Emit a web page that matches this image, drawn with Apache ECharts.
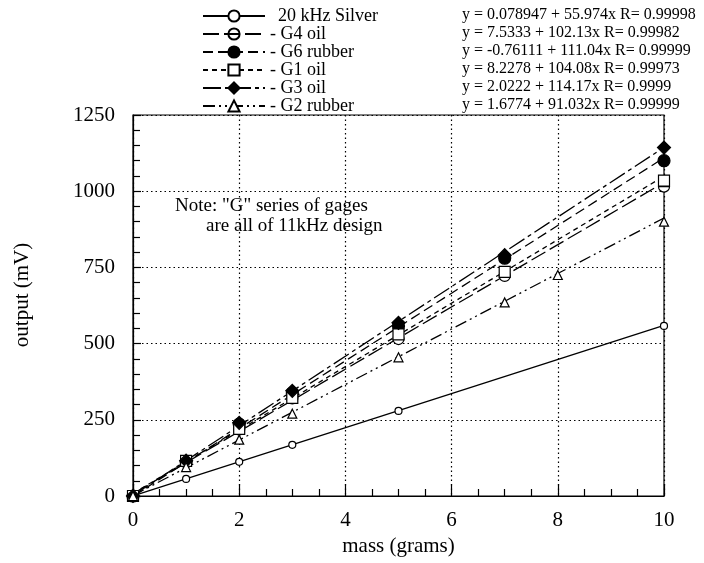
<!DOCTYPE html>
<html>
<head>
<meta charset="utf-8">
<script src="https://cdn.jsdelivr.net/npm/echarts@6/dist/echarts.min.js"></script>
<style>
  html, body { margin: 0; padding: 0; background: #fff; }
  #chart { width: 704px; height: 563px; }
</style>
</head>
<body>
<div id="chart"></div>
<script>
// Gage output versus applied mass
const seriesNames = ['20 kHz Silver', 'G4 oil', 'G6 rubber', 'G1 oil', 'G3 oil', 'G2 rubber'];

// measured points (mass in grams, output in mV)
const silverX = [0, 1, 2, 3, 5, 10];
const silverY = [0, 56, 112, 168, 279, 558];
const g4X = [0, 1, 2, 3, 5, 7, 10];
const g4Y = [0, 112, 218, 320, 515, 722, 1015];
const g6X = [0, 1, 2, 3, 5, 7, 10];
const g6Y = [0, 112, 236, 338, 558, 780, 1100];
const g1X = [0, 1, 2, 3, 5, 7, 10];
const g1Y = [0, 115, 220, 322, 530, 735, 1035];
const g3X = [0, 1, 2, 3, 5, 7, 10];
const g3Y = [0, 116, 240, 345, 568, 790, 1143];
const g2X = [0, 1, 2, 3, 5, 7, 8, 10];
const g2Y = [0, 95, 185, 270, 455, 635, 725, 900];

// linear fits y = a + b x
const fitA = [0.078947, 7.5333, -0.76111, 8.2278, 2.0222, 1.6774];
const fitB = [55.974, 102.13, 111.04, 104.08, 114.17, 91.032];
const fitText = [
  'y = 0.078947 + 55.974x R= 0.99998',
  'y = 7.5333 + 102.13x R= 0.99982',
  'y = -0.76111 + 111.04x R= 0.99999',
  'y = 8.2278 + 104.08x R= 0.99973',
  'y = 2.0222 + 114.17x R= 0.9999',
  'y = 1.6774 + 91.032x R= 0.99999'
];

// axis ticks
const xTicks = [0, 2, 4, 6, 8, 10];
const yTicks = [0, 250, 500, 750, 1000, 1250];

const FONT = 'Liberation Serif';
const theta = 'path://M0,50A50,50,0,1,1,100,50A50,50,0,1,1,0,50ZM0,50L100,50';

const pointsX = [silverX, g4X, g6X, g1X, g3X, g2X];
const pointsY = [silverY, g4Y, g6Y, g1Y, g3Y, g2Y];
const styles = [
  { symbol: 'circle',   size: 7,  fill: '#fff', dash: 'solid' },
  { symbol: theta,      size: 11, fill: '#fff', dash: [16, 5] },
  { symbol: 'circle',   size: 12, fill: '#000', dash: [10, 5] },
  { symbol: 'rect',     size: 11, fill: '#fff', dash: [5, 4] },
  { symbol: 'diamond',  size: 13, fill: '#000', dash: [18, 4, 4, 4] },
  { symbol: 'triangle', size: 9,  fill: '#fff', dash: [12, 4, 2, 4, 2, 4] }
];

const series = [];
seriesNames.forEach((name, i) => {
  const st = styles[i];
  // fitted line over the mass range
  series.push({
    name: name,
    type: 'line',
    data: [[xTicks[0], fitA[i] + fitB[i] * xTicks[0]],
           [xTicks[xTicks.length - 1], fitA[i] + fitB[i] * xTicks[xTicks.length - 1]]],
    symbol: st.symbol,
    showSymbol: false,
    lineStyle: { color: '#000', width: 1.3, type: st.dash },
    itemStyle: { color: st.fill, borderColor: '#000', borderWidth: 1.2 },
    silent: true,
    z: 2
  });
  // measured points
  series.push({
    name: name + ' pts',
    type: 'scatter',
    data: pointsX[i].map((x, k) => [x, pointsY[i][k]]),
    symbol: st.symbol,
    symbolSize: st.size,
    itemStyle: { color: st.fill, borderColor: '#000', borderWidth: 1.2, opacity: 1 },
    z: 3 + i
  });
});

const graphics = fitText.map((t, i) => ({
  type: 'text',
  left: 462,
  top: 16 + 18 * i - 9,
  style: { text: t, font: '16px "' + FONT + '"', fill: '#000' }
}));
graphics.push(
  { type: 'text', left: 175, top: 197,
    style: { text: 'Note: "G" series of gages', font: '19px "' + FONT + '"', fill: '#000' } },
  { type: 'text', left: 206, top: 217,
    style: { text: 'are all of 11kHz design', font: '19px "' + FONT + '"', fill: '#000' } },
  { type: 'text', x: 22, y: 295, rotation: Math.PI / 2,
    style: { text: 'output (mV)', font: '21px "' + FONT + '"', fill: '#000',
             align: 'center', verticalAlign: 'middle' } }
);

const chart = echarts.init(document.getElementById('chart'), null, { renderer: 'canvas' });
chart.setOption({
  backgroundColor: '#fff',
  animation: false,
  grid: { left: 133, right: 40, top: 115, bottom: 67, show: true,
          borderColor: '#000', borderWidth: 1.2, backgroundColor: 'transparent' },
  legend: {
    data: seriesNames,
    orient: 'vertical',
    left: 202,
    top: 7,
    itemWidth: 62,
    itemHeight: 14,
    itemGap: 0,
    padding: 0,
    selectedMode: false,
    textStyle: { fontFamily: FONT, fontSize: 18, color: '#000', lineHeight: 14,
                 rich: { s: { fontFamily: FONT, fontSize: 18, lineHeight: 14, padding: [0, 0, 0, 8] } } },
    formatter: name => name === seriesNames[0] ? '{s|' + name + '}' : '- ' + name
  },
  xAxis: {
    type: 'value', min: xTicks[0], max: xTicks[xTicks.length - 1], interval: 2,
    name: 'mass (grams)', nameLocation: 'middle', nameGap: 40,
    nameTextStyle: { fontFamily: FONT, fontSize: 21, color: '#000' },
    axisLine: { lineStyle: { color: '#000', width: 1.2 } },
    axisTick: { inside: true, length: 12, lineStyle: { color: '#000', width: 1.2 } },
    minorTick: { show: true, splitNumber: 4, length: 7, lineStyle: { color: '#000', width: 1.2 } },
    splitLine: { show: true, lineStyle: { color: '#000', width: 1.2, type: [1.5, 3] } },
    axisLabel: { fontFamily: FONT, fontSize: 21, color: '#000', margin: 14,
                 formatter: v => String(v) }
  },
  yAxis: {
    type: 'value', min: yTicks[0], max: yTicks[yTicks.length - 1], interval: 250,
    axisLine: { show: true, lineStyle: { color: '#000', width: 1.2 } },
    axisTick: { show: true, inside: true, length: 8, lineStyle: { color: '#000', width: 1.2 } },
    minorTick: { show: true, splitNumber: 5, length: 7, lineStyle: { color: '#000', width: 1.2 } },
    splitLine: { show: true, lineStyle: { color: '#000', width: 1.2, type: [1.5, 3] } },
    axisLabel: { fontFamily: FONT, fontSize: 21, color: '#000', margin: 18,
                 formatter: v => String(v) }
  },
  graphic: graphics,
  series: series
});
</script>
</body>
</html>
